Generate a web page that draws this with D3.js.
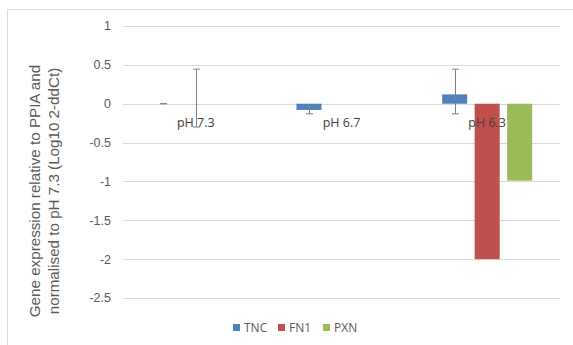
<!DOCTYPE html>
<html>
<head>
<meta charset="utf-8">
<script src="https://cdn.jsdelivr.net/npm/d3@7"></script>
<style>
  body { margin: 0; background: #fff; }
  svg { display: block; }
</style>
</head>
<body>
<div id="chart"></div>
<script>
const categories = ["pH 7.3", "pH 6.7", "pH 6.3"];
const series = ["TNC", "FN1", "PXN"];
const colors = ["#4f81bd", "#c0504d", "#9bbb59"];
// values per series, one per category
const TNC = [0, -0.08, 0.12];
const FN1 = [0, null, -2.0];
const PXN = [null, null, -0.99];
// error bar ends (plus / minus lengths)
const TNCplus = [0, 0.045, 0.325];
const TNCminus = [0, 0.05, 0.25];
const FN1plus = [0.445, null, null];
const FN1minus = [0.3, null, null];
const yTicks = [1, 0.5, 0, -0.5, -1, -1.5, -2, -2.5];

const values = { TNC, FN1, PXN };
const errPlus = { TNC: TNCplus, FN1: FN1plus };
const errMinus = { TNC: TNCminus, FN1: FN1minus };

const width = 573, height = 345;
const margin = { top: 26, left: 123, right: 13, bottom: 47 };

const svg = d3.select("#chart").append("svg")
  .attr("width", width)
  .attr("height", height);

// chart frame
svg.append("rect")
  .attr("x", 7.5).attr("y", 9.5)
  .attr("width", 600).attr("height", 400)
  .attr("fill", "none")
  .attr("stroke", "#d9d9d9");

const y = d3.scaleLinear()
  .domain([-2.5, 1])
  .range([height - margin.bottom, margin.top]);

const x0 = d3.scaleBand()
  .domain(categories)
  .range([margin.left, width - margin.right]);

const x1 = d3.scaleBand()
  .domain(series)
  .range([x0.bandwidth() / 2 - 48.75, x0.bandwidth() / 2 + 48.75])
  .paddingInner(0.23)
  .paddingOuter(0.115);

// grid
svg.append("g")
  .selectAll("line")
  .data(yTicks)
  .join("line")
  .attr("x1", margin.left)
  .attr("x2", width - margin.right)
  .attr("y1", d => Math.round(y(d)) + 0.5)
  .attr("y2", d => Math.round(y(d)) + 0.5)
  .attr("stroke", "#d9d9d9")
  .attr("stroke-width", 1);

// y tick labels
svg.append("g")
  .selectAll("text")
  .data(yTicks)
  .join("text")
  .attr("x", 111)
  .attr("y", d => y(d))
  .attr("dy", "0.35em")
  .attr("text-anchor", "end")
  .attr("font-family", "Liberation Sans, Arial, sans-serif")
  .attr("font-size", 12.5)
  .attr("fill", "#595959")
  .text(d => d);

// bars
const rows = [];
series.forEach(s => {
  categories.forEach((c, i) => {
    rows.push({ s, c, v: values[s][i], p: errPlus[s] ? errPlus[s][i] : null, m: errMinus[s] ? errMinus[s][i] : null });
  });
});

svg.append("g")
  .selectAll("rect")
  .data(rows.filter(d => d.v !== null && d.v !== 0))
  .join("rect")
  .attr("x", d => x0(d.c) + x1(d.s))
  .attr("width", x1.bandwidth())
  .attr("y", d => y(Math.max(0, d.v)))
  .attr("height", d => Math.abs(y(d.v) - y(0)))
  .attr("fill", d => colors[series.indexOf(d.s)]);

// category labels
svg.append("g")
  .selectAll("text")
  .data(categories)
  .join("text")
  .attr("x", d => x0(d) + x0.bandwidth() / 2)
  .attr("y", y(0) + 23)
  .attr("text-anchor", "middle")
  .attr("font-family", "Open Sans, Liberation Sans, sans-serif")
  .attr("font-size", 12.5)
  .attr("fill", "#404040")
  .text(d => d);

// error bars
const eb = svg.append("g")
  .attr("stroke", "#808080")
  .attr("stroke-width", 1)
  .selectAll("g")
  .data(rows.filter(d => d.p !== null && d.v !== null))
  .join("g")
  .attr("transform", d => `translate(${Math.round(x0(d.c) + x1(d.s) + x1.bandwidth() / 2) + 0.5},0)`);

eb.append("line")
  .attr("y1", d => y(d.v + d.p))
  .attr("y2", d => y(d.v - d.m));
eb.append("line")
  .attr("x1", -3.5).attr("x2", 3.5)
  .attr("y1", d => y(d.v + d.p))
  .attr("y2", d => y(d.v + d.p));
eb.append("line")
  .attr("x1", -3.5).attr("x2", 3.5)
  .attr("y1", d => y(d.v - d.m))
  .attr("y2", d => y(d.v - d.m));

// y axis title
const title = svg.append("text")
  .attr("transform", "translate(0,191) rotate(-90)")
  .attr("text-anchor", "middle")
  .attr("font-family", "Liberation Sans, Arial, sans-serif")
  .attr("font-size", 15.2)
  .attr("fill", "#595959");
title.append("tspan").attr("x", 0).attr("y", 40).text("Gene expression relative to PPIA and");
title.append("tspan").attr("x", 0).attr("y", 59).text("normalised to pH 7.3 (Log10 2-ddCt)");

// legend
const legend = svg.append("g")
  .selectAll("g")
  .data(series)
  .join("g")
  .attr("transform", (d, i) => `translate(${233 + i * 45},${324})`);
legend.append("rect")
  .attr("width", 7).attr("height", 7)
  .attr("fill", (d, i) => colors[i]);
legend.append("text")
  .attr("x", 11).attr("y", 8)
  .attr("font-family", "Open Sans, Liberation Sans, sans-serif")
  .attr("font-size", 12)
  .attr("fill", "#595959")
  .text(d => d);
</script>
</body>
</html>
